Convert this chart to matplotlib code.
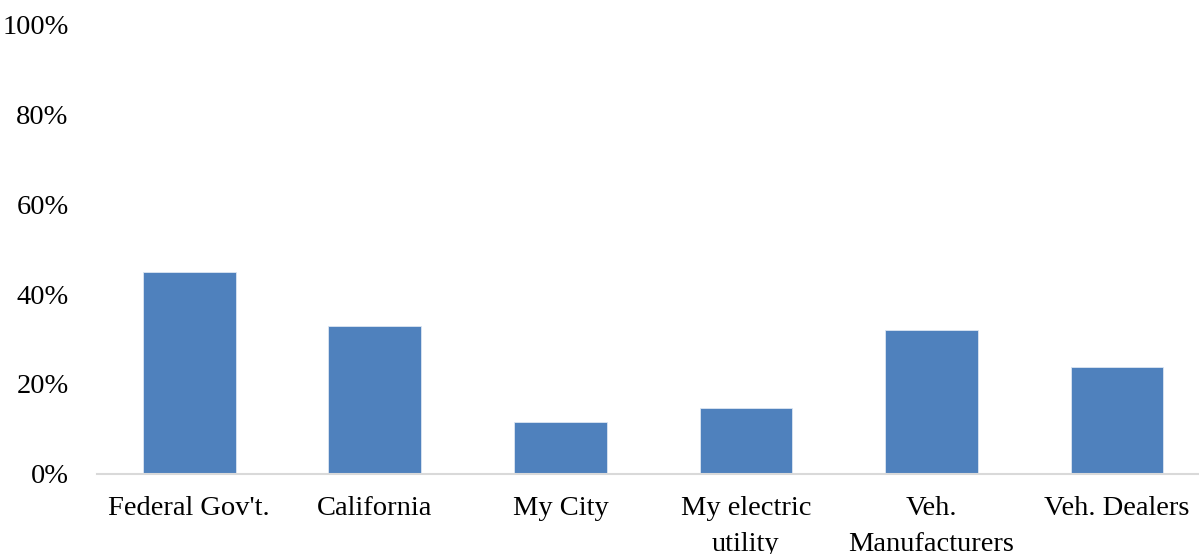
#!/usr/bin/env python3
"""Bar chart: share of respondents by institution."""

import matplotlib

matplotlib.use("Agg")
import matplotlib.pyplot as plt
from matplotlib.ticker import PercentFormatter

categories = [
    "Federal Gov't.",
    "California",
    "My City",
    "My electric\nutility",
    "Veh.\nManufacturers",
    "Veh. Dealers",
]
shares = [44.9, 32.9, 11.5, 14.7, 31.9, 23.8]
y_ticks = [0, 20, 40, 60, 80, 100]

plt.rcParams["font.family"] = ["Liberation Serif", "DejaVu Serif"]

fig = plt.figure(figsize=(11.99, 5.54), dpi=100)
ax = fig.add_axes([0.0805, 0.1453, 0.9285, 0.8096])

ax.bar(range(len(categories)), shares, width=0.5, color="#4F81BD",
       edgecolor="#DCE6F2", linewidth=0.6, zorder=2)

ax.set_xlim(-0.5, len(categories) - 0.5)
ax.set_ylim(0, 100)
ax.set_yticks(y_ticks)
ax.yaxis.set_major_formatter(PercentFormatter(decimals=0))
ax.set_xticks(range(len(categories)))
ax.set_xticklabels(categories, linespacing=1.6)

ax.tick_params(axis="y", length=0, pad=20, labelsize=20.5)
ax.tick_params(axis="x", length=0, pad=16, labelsize=20.5)

for side in ("top", "right", "left"):
    ax.spines[side].set_visible(False)
ax.spines["bottom"].set_color("#D9D9D9")
ax.spines["bottom"].set_linewidth(1.5)

fig.savefig("out.png", dpi=100)
